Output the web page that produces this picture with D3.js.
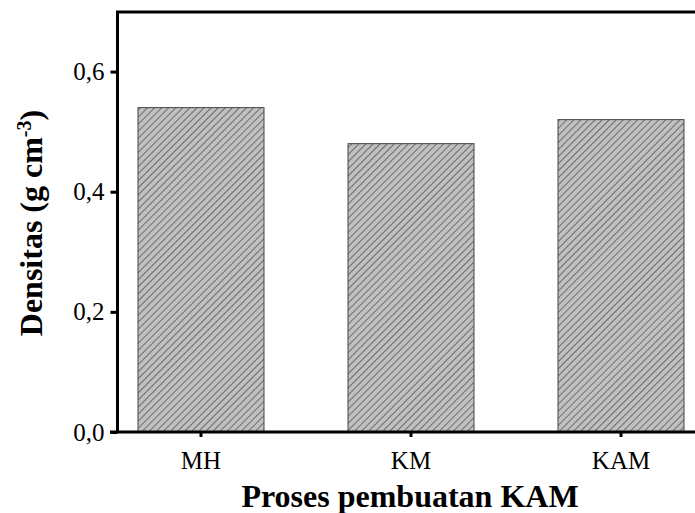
<!DOCTYPE html>
<html>
<head>
<meta charset="utf-8">
<script src="https://cdn.jsdelivr.net/npm/d3@7"></script>
<style>
  body { margin: 0; background: #fff; }
  text { font-family: "Liberation Serif", "Times New Roman", serif; fill: #000; }
</style>
</head>
<body>
<svg width="695" height="513"></svg>
<script>
const categories = ["MH", "KM", "KAM"];
const densitas = [0.54, 0.48, 0.52];
const yTicks = [0, 0.2, 0.4, 0.6];
const yTickLabels = ["0,0", "0,2", "0,4", "0,6"];

const svg = d3.select("svg");

const x = d3.scaleBand()
  .domain(categories)
  .range([117, 705])
  .paddingInner(0.4)
  .paddingOuter(0.1);

const y = d3.scaleLinear()
  .domain([0, 0.7])
  .range([432, 11.5]);

// hatch pattern for the bars ("/" direction)
const defs = svg.append("defs");
const pat = defs.append("pattern")
  .attr("id", "hatch")
  .attr("patternUnits", "userSpaceOnUse")
  .attr("width", 5)
  .attr("height", 5)
  .attr("patternTransform", "rotate(45)");
pat.append("rect")
  .attr("width", 5)
  .attr("height", 5)
  .attr("fill", "#c0c0c0");
pat.append("line")
  .attr("x1", 0).attr("y1", 0)
  .attr("x2", 0).attr("y2", 5)
  .attr("stroke", "#333")
  .attr("stroke-width", 1.2);

svg.append("g")
  .selectAll("rect")
  .data(densitas)
  .enter()
  .append("rect")
  .attr("x", (d, i) => x(categories[i]))
  .attr("y", d => y(d))
  .attr("width", x.bandwidth())
  .attr("height", d => y(0) - y(d))
  .attr("fill", "url(#hatch)")
  .attr("stroke", "#444")
  .attr("stroke-width", 1);

// y axis
const yAxis = svg.append("g")
  .attr("transform", "translate(117.5,0)")
  .call(d3.axisLeft(y)
    .tickValues(yTicks)
    .tickFormat((d, i) => yTickLabels[i])
    .tickSize(7)
    .tickPadding(6));
yAxis.select(".domain").remove();
yAxis.selectAll("line").attr("stroke-width", 3);
yAxis.selectAll("text")
  .style("font-family", "Liberation Serif, serif")
  .style("font-size", "25px");

// x axis
const xAxis = svg.append("g")
  .attr("transform", "translate(0,432)")
  .call(d3.axisBottom(x).tickSize(5).tickPadding(14));
xAxis.select(".domain").remove();
xAxis.selectAll("line").attr("stroke-width", 3);
xAxis.selectAll("text")
  .style("font-family", "Liberation Serif, serif")
  .style("font-size", "25px");

// frame lines
svg.append("line")
  .attr("x1", 117.5).attr("x2", 117.5)
  .attr("y1", y(0.7)).attr("y2", y(0))
  .attr("stroke", "#000").attr("stroke-width", 3);
svg.append("line")
  .attr("x1", 116).attr("x2", 695)
  .attr("y1", y(0.7) + 0.5).attr("y2", y(0.7) + 0.5)
  .attr("stroke", "#000").attr("stroke-width", 3);
svg.append("line")
  .attr("x1", 110).attr("x2", 695)
  .attr("y1", y(0)).attr("y2", y(0))
  .attr("stroke", "#000").attr("stroke-width", 3);

// titles
svg.append("text")
  .attr("x", 410)
  .attr("y", 507)
  .attr("text-anchor", "middle")
  .style("font-size", "32px")
  .style("font-weight", "bold")
  .text("Proses pembuatan KAM");

const yTitle = svg.append("text")
  .attr("transform", "translate(42,223) rotate(-90)")
  .attr("text-anchor", "middle")
  .style("font-size", "32px")
  .style("font-weight", "bold");
yTitle.append("tspan").text("Densitas (g cm");
yTitle.append("tspan")
  .attr("dy", "-0.55em")
  .style("font-size", "20px")
  .text("-3");
yTitle.append("tspan")
  .attr("dy", "0.35em")
  .text(")");
</script>
</body>
</html>
